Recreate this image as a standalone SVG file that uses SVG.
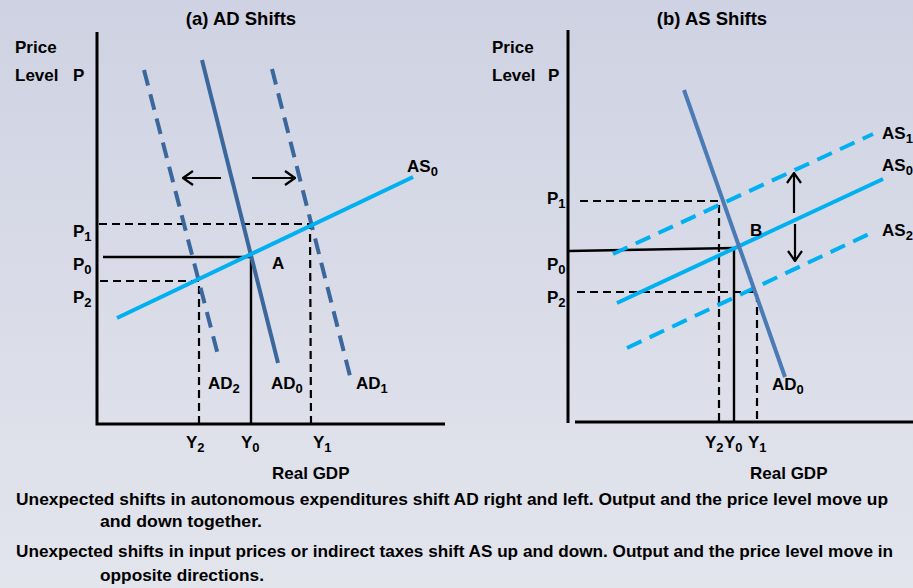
<svg xmlns="http://www.w3.org/2000/svg" width="913" height="588" viewBox="0 0 913 588">
  <defs>
    <linearGradient id="bg" x1="0" y1="0" x2="0" y2="1">
      <stop offset="0" stop-color="#cfd2e2"/>
      <stop offset="1" stop-color="#e3e5ed"/>
    </linearGradient>
    <marker id="arr" markerUnits="userSpaceOnUse" viewBox="0 0 12 16" refX="11" refY="8" markerWidth="12" markerHeight="16" orient="auto">
      <path d="M1,1 L11,8 L1,15" fill="none" stroke="#000" stroke-width="2.2"/>
    </marker>
    <style>
      text { font-family: "Liberation Sans", Arial, sans-serif; font-weight: bold; fill: #000; }
      .lbl { font-size: 17px; }
      .sub { font-size: 13px; }
      .title { font-size: 18.5px; }
      .note { font-size: 16.5px; }
      .axis { stroke: #000; stroke-width: 3; fill: none; }
      .guide { stroke: #000; stroke-width: 2.2; stroke-dasharray: 8 5; fill: none; }
      .guideS { stroke: #000; stroke-width: 2.4; fill: none; }
      .ad { stroke: #3a679c; stroke-width: 4; fill: none; }
      .adb { stroke: #4a7bb5; stroke-width: 4; fill: none; }
      .addash { stroke: #3a679c; stroke-width: 4; fill: none; stroke-dasharray: 16 9; }
      .as { stroke: #00b0f0; stroke-width: 4; fill: none; }
      .asdash { stroke: #00b0f0; stroke-width: 4; fill: none; stroke-dasharray: 16 9; }
      .arrow { stroke: #000; stroke-width: 2.2; fill: none; marker-end: url(#arr); }
    </style>
  </defs>
  <rect x="0" y="0" width="913" height="588" fill="url(#bg)"/>

  <!-- Panel (a) -->
  <g id="panel-a">
    <text class="title" x="241" y="25" text-anchor="middle">(a) AD Shifts</text>
    <text class="lbl" x="15" y="53">Price</text>
    <text class="lbl" x="15" y="81">Level<tspan x="73">P</tspan></text>

    <g id="a-guides">
      <polyline class="guide" points="99,224 310,224 311,424"/>
      <polyline class="guideS" points="103,257 251,257 251,424"/>
      <polyline class="guide" points="100,281 199,281 199,424"/>
    </g>
    <g id="a-curves">
      <line class="addash" x1="144" y1="70" x2="218" y2="355"/>
      <line class="addash" x1="272" y1="69" x2="350" y2="376"/>
      <line class="ad" x1="202" y1="60" x2="278" y2="363"/>
      <line class="as" x1="117" y1="318" x2="413" y2="177"/>
    </g>
    <g id="a-arrows">
      <line class="arrow" x1="221" y1="178" x2="183" y2="178"/>
      <line class="arrow" x1="252" y1="178" x2="295" y2="178"/>
    </g>
    <g id="a-axes">
      <polyline class="axis" points="97,32 97,424 445,424"/>
    </g>
    <g id="a-labels">
      <text class="lbl" x="73" y="237">P<tspan class="sub" dy="4">1</tspan></text>
      <text class="lbl" x="73" y="270">P<tspan class="sub" dy="4">0</tspan></text>
      <text class="lbl" x="73" y="303">P<tspan class="sub" dy="4">2</tspan></text>
      <text class="lbl" x="272" y="269">A</text>
      <text class="lbl" x="407" y="172">AS<tspan class="sub" dy="4">0</tspan></text>
      <text class="lbl" x="208" y="389">AD<tspan class="sub" dy="4">2</tspan></text>
      <text class="lbl" x="271" y="389">AD<tspan class="sub" dy="4">0</tspan></text>
      <text class="lbl" x="356" y="389">AD<tspan class="sub" dy="4">1</tspan></text>
      <text class="lbl" x="186" y="448">Y<tspan class="sub" dy="4">2</tspan></text>
      <text class="lbl" x="241" y="448">Y<tspan class="sub" dy="4">0</tspan></text>
      <text class="lbl" x="313" y="448">Y<tspan class="sub" dy="4">1</tspan></text>
      <text class="lbl" x="272" y="479">Real GDP</text>
    </g>
  </g>

  <!-- Panel (b) -->
  <g id="panel-b">
    <text class="title" x="712" y="25" text-anchor="middle">(b) AS Shifts</text>
    <text class="lbl" x="492" y="53">Price</text>
    <text class="lbl" x="492" y="81">Level<tspan x="548">P</tspan></text>

    <g id="b-guides">
      <polyline class="guide" points="580,201 719,201 719,422"/>
      <polyline class="guideS" points="569,251 734,248 734,422"/>
      <polyline class="guide" points="577,292 757,292 757,422"/>
    </g>
    <g id="b-curves">
      <line class="asdash" x1="613" y1="254" x2="873" y2="134"/>
      <line class="asdash" x1="627" y1="348" x2="869" y2="234"/>
      <line class="as" x1="617" y1="303" x2="883" y2="179"/>
      <line class="adb" x1="684" y1="90" x2="785" y2="377"/>
    </g>
    <g id="b-arrows">
      <line class="arrow" x1="794" y1="213" x2="794" y2="173"/>
      <line class="arrow" x1="795" y1="224" x2="795" y2="261"/>
    </g>
    <g id="b-axes">
      <line class="axis" x1="568" y1="30" x2="568" y2="423"/>
      <line class="axis" x1="575" y1="422" x2="913" y2="422"/>
    </g>
    <g id="b-labels">
      <text class="lbl" x="547" y="204">P<tspan class="sub" dy="4">1</tspan></text>
      <text class="lbl" x="547" y="270">P<tspan class="sub" dy="4">0</tspan></text>
      <text class="lbl" x="547" y="303">P<tspan class="sub" dy="4">2</tspan></text>
      <text class="lbl" x="750" y="236">B</text>
      <text class="lbl" x="882" y="139">AS<tspan class="sub" dy="4">1</tspan></text>
      <text class="lbl" x="882" y="171">AS<tspan class="sub" dy="4">0</tspan></text>
      <text class="lbl" x="882" y="236">AS<tspan class="sub" dy="4">2</tspan></text>
      <text class="lbl" x="772" y="390">AD<tspan class="sub" dy="4">0</tspan></text>
      <text class="lbl" x="705" y="448">Y<tspan class="sub" dy="4">2</tspan></text>
      <text class="lbl" x="724" y="448">Y<tspan class="sub" dy="4">0</tspan></text>
      <text class="lbl" x="748" y="448">Y<tspan class="sub" dy="4">1</tspan></text>
      <text class="lbl" x="750" y="479">Real GDP</text>
    </g>
  </g>

  <g id="notes">
    <text class="note" x="16" y="505" textLength="872" lengthAdjust="spacingAndGlyphs">Unexpected shifts in autonomous expenditures shift AD right and left. Output and the price level move up</text>
    <text class="note" x="100" y="527" textLength="162" lengthAdjust="spacingAndGlyphs">and down together.</text>
    <text class="note" x="16" y="557" textLength="877" lengthAdjust="spacingAndGlyphs">Unexpected shifts in input prices or indirect taxes shift AS up and down. Output and the price level move in</text>
    <text class="note" x="100" y="581" textLength="164" lengthAdjust="spacingAndGlyphs">opposite directions.</text>
  </g>
</svg>
